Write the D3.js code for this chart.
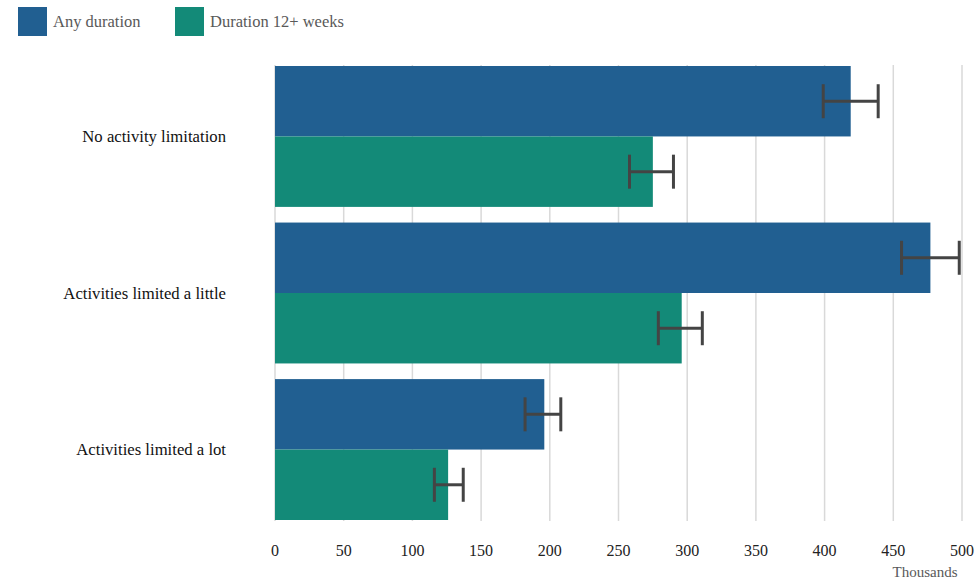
<!DOCTYPE html>
<html>
<head>
<meta charset="utf-8">
<script src="https://cdn.jsdelivr.net/npm/d3@7"></script>
<style>
  body { margin: 0; background: #fff; }
</style>
</head>
<body>
<div id="chart"></div>
<script>
// categories and series (values in thousands)
var categories = ["No activity limitation", "Activities limited a little", "Activities limited a lot"]
var seriesNames = ["Any duration", "Duration 12+ weeks"]
var anyDuration = [419, 477, 196]
var anyLow = [399, 456, 182]
var anyHigh = [439, 498, 208]
var longDuration = [275, 296, 126]
var longLow = [258, 279, 116]
var longHigh = [290, 311, 137]
var xTicks = [0, 50, 100, 150, 200, 250, 300, 350, 400, 450, 500]

var colors = ["#215f91", "#138a78"]
var FONT = "'Liberation Serif', 'DejaVu Serif', serif"

var W = 979, H = 580
var margin = {top: 66, right: 17, bottom: 60, left: 275}

var svg = d3.select("#chart").append("svg")
    .attr("width", W)
    .attr("height", H)
    .attr("font-family", FONT)

var x = d3.scaleLinear().domain([0, 500]).range([margin.left, W - margin.right])
var y = d3.scaleBand().domain(categories).range([margin.top, H - margin.bottom])
    .paddingInner(0.1).paddingOuter(0)
var sub = d3.scaleBand().domain(seriesNames).range([0, y.bandwidth()])

// gridlines
svg.append("g")
    .selectAll("line")
    .data(xTicks)
    .enter().append("line")
        .attr("x1", d => x(d)).attr("x2", d => x(d))
        .attr("y1", margin.top - 1).attr("y2", H - margin.bottom + 1)
        .attr("stroke", "#d9d9d9")
        .attr("stroke-width", 1.5)

// tick labels
svg.append("g")
    .selectAll("text")
    .data(xTicks)
    .enter().append("text")
        .attr("x", d => x(d))
        .attr("y", 556)
        .attr("text-anchor", "middle")
        .style("font-family", FONT)
        .style("font-size", "16px")
        .attr("fill", "#222")
        .text(d => d)

svg.append("text")
    .attr("x", 925).attr("y", 577)
    .attr("text-anchor", "middle")
    .style("font-family", FONT)
    .style("font-size", "15px")
    .attr("fill", "#595959")
    .text("Thousands")

// category labels
svg.append("g")
    .selectAll("text")
    .data(categories)
    .enter().append("text")
        .attr("x", 226)
        .attr("y", d => y(d) + y.bandwidth() / 2)
        .attr("dy", "0.35em")
        .attr("text-anchor", "end")
        .style("font-family", FONT)
        .style("font-size", "16.7px")
        .attr("fill", "#111")
        .text(d => d)

// build records
var records = []
categories.forEach((c, i) => {
    records.push({cat: c, s: seriesNames[0], v: anyDuration[i], lo: anyLow[i], hi: anyHigh[i], color: colors[0]})
    records.push({cat: c, s: seriesNames[1], v: longDuration[i], lo: longLow[i], hi: longHigh[i], color: colors[1]})
})

// bars
svg.append("g")
    .selectAll("rect")
    .data(records)
    .enter().append("rect")
        .attr("x", x(0))
        .attr("y", d => y(d.cat) + sub(d.s))
        .attr("width", d => x(d.v) - x(0))
        .attr("height", sub.bandwidth())
        .attr("fill", d => d.color)

// error bars
var capH = 34
var err = svg.append("g")
    .selectAll("g")
    .data(records)
    .enter().append("g")
        .attr("stroke", "#444")
        .attr("stroke-width", 3)

err.append("line")
    .attr("x1", d => x(d.lo)).attr("x2", d => x(d.hi))
    .attr("y1", d => y(d.cat) + sub(d.s) + sub.bandwidth() / 2)
    .attr("y2", d => y(d.cat) + sub(d.s) + sub.bandwidth() / 2)
err.append("line")
    .attr("x1", d => x(d.lo)).attr("x2", d => x(d.lo))
    .attr("y1", d => y(d.cat) + sub(d.s) + sub.bandwidth() / 2 - capH / 2)
    .attr("y2", d => y(d.cat) + sub(d.s) + sub.bandwidth() / 2 + capH / 2)
err.append("line")
    .attr("x1", d => x(d.hi)).attr("x2", d => x(d.hi))
    .attr("y1", d => y(d.cat) + sub(d.s) + sub.bandwidth() / 2 - capH / 2)
    .attr("y2", d => y(d.cat) + sub(d.s) + sub.bandwidth() / 2 + capH / 2)

// legend
var legend = svg.append("g")
    .selectAll("g")
    .data(seriesNames)
    .enter().append("g")
        .attr("transform", (d, i) => "translate(" + [18, 175][i] + ",7)")

legend.append("rect")
    .attr("width", 29).attr("height", 29)
    .attr("fill", (d, i) => colors[i])
legend.append("text")
    .attr("x", 35).attr("y", 14.5)
    .attr("dy", "0.35em")
    .style("font-family", FONT)
    .style("font-size", "16.5px")
    .attr("fill", "#595959")
    .text(d => d)
</script>
</body>
</html>
